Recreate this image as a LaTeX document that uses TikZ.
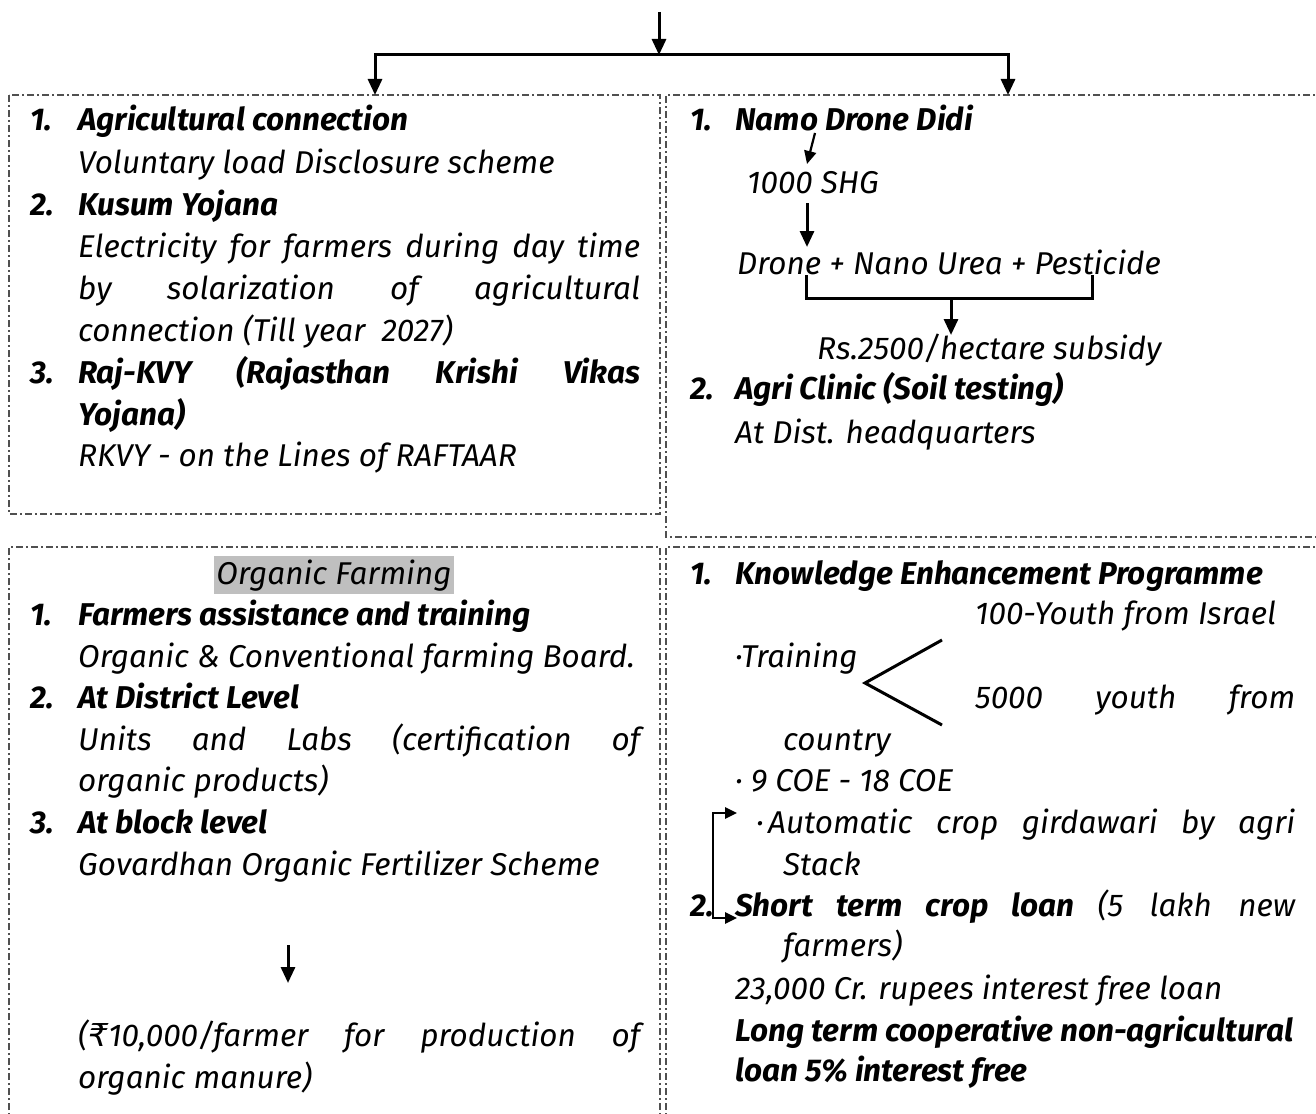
\documentclass[tikz,border=0pt]{standalone}
\usepackage{fontspec}
\setmainfont{Fira Sans}
\newfontfamily\rupeefont{DejaVu Sans}
\usetikzlibrary{arrows.meta}
\definecolor{hlgray}{RGB}{191,191,191}
\definecolor{boxgray}{RGB}{80,80,80}
\begin{document}
\begin{tikzpicture}[x=1pt,y=-1pt,
  box/.style={draw=boxgray, line width=1.3pt, dash pattern=on 7pt off 3pt on 2pt off 3pt},
  tip/.tip={Triangle[length=16pt,width=14pt]},
  arr/.style={-tip, line width=3pt},
  link/.style={line width=3pt},
  txt/.style={anchor=base west, inner sep=0pt, font=\fontsize{31.5}{36}\selectfont\itshape},
  hd/.style={anchor=base west, inner sep=0pt, font=\fontsize{31.5}{36}\selectfont\bfseries\itshape},
]
\useasboundingbox (0,0) rectangle (1316,1113);
\fill[white] (0,0) rectangle (1316,1113);

% ---------- boxes ----------
\draw[box] (9,95) rectangle (660,514);
\draw[box] (1325,95) -- (666,95) -- (666,537) -- (1325,537);
\draw[box] (9,1125) -- (9,547) -- (660,547) -- (660,1125);
\draw[box] (1325,547) -- (666,547) -- (666,1125);

% ---------- top connectors ----------
\coordinate (top) at (659,12);
\coordinate (split) at (659,55);
\coordinate (L) at (375,55);
\coordinate (R) at (1008,55);
\coordinate (Lb) at (375,95);
\coordinate (Rb) at (1008,95);
\draw[arr] (top) -- (split);
\draw[link, line cap=rect] (L) -- (R);
\draw[arr] (L) -- (Lb);
\draw[arr] (R) -- (Rb);

% ---------- top left ----------
\node[hd] (n1) at (30,131) {1.};
\node[hd] (agc) at (78,131) {Agricultural connection};
\node[txt] (vol) at (78,173) {Voluntary load Disclosure scheme};
\node[hd] (n2) at (30,215) {2.};
\node[hd] (kus) at (78,215) {Kusum Yojana};
\node[txt] (el1) at (78,257) {\makebox[562pt][s]{Electricity for farmers during day time}};
\node[txt] (el2) at (78,299) {\makebox[562pt][s]{by solarization of agricultural}};
\node[txt] (el3) at (78,341) {connection (Till year\ \ 2027)};
\node[hd] (n3) at (30,383) {3.};
\node[hd] (raj1) at (78,383) {\makebox[562pt][s]{Raj-KVY (Rajasthan Krishi Vikas}};
\node[hd] (raj2) at (78,425) {Yojana)};
\node[txt] (rkvy) at (78,466) {RKVY - on the Lines of RAFTAAR};

% ---------- top right ----------
\node[hd] (m1) at (690,131) {1.};
\node[hd] (namo) at (735,131) {Namo Drone Didi};
\node[txt] (shg) at (747,193) {1000 SHG};
\node[txt] (drone) at (737,274) {Drone + Nano Urea + Pesticide};
\node[txt] (rs) at (817,359) {Rs.2500/hectare subsidy};
\node[hd] (m2) at (690,399) {2.};
\node[hd] (clinic) at (735,399) {Agri Clinic (Soil testing)};
\node[txt] (dist) at (735,443) {At Dist. headquarters};
\coordinate (a1s) at (815,133);
\coordinate (a1e) at (807,164);
\coordinate (a2s) at (807,203);
\coordinate (a2e) at (807,247);
\coordinate (bl) at (806,275);
\coordinate (br) at (1092,275);
\coordinate (bm) at (951,298);
\coordinate (be) at (951,335);
\draw[-{Triangle[length=13pt,width=12pt]}, line width=2.2pt] (a1s) -- (a1e);
\draw[arr] (a2s) -- (a2e);
\draw[link] (bl) |- (bm) -| (br);
\draw[arr] (bm) -- (be);

% ---------- bottom left ----------
\node[anchor=base, fill=hlgray, inner xsep=2pt, inner ysep=3pt,
      font=\fontsize{31.5}{36}\selectfont\itshape] (org) at (334,584) {Organic Farming};
\node[hd] (o1) at (30,625) {1.};
\node[hd] (far) at (78,625) {Farmers assistance and training};
\node[txt] (board) at (78,667) {Organic \& Conventional farming Board.};
\node[hd] (o2) at (30,708) {2.};
\node[hd] (distl) at (78,708) {At District Level};
\node[txt] (units1) at (78,750) {\makebox[562pt][s]{Units and Labs (certification of}};
\node[txt] (units2) at (78,791) {organic products)};
\node[hd] (o3) at (30,833) {3.};
\node[hd] (block) at (78,833) {At block level};
\node[txt] (gov) at (78,875) {Govardhan Organic Fertilizer Scheme};
\node[txt] (ten1) at (78,1046) {\makebox[562pt][s]{({\rupeefont\itshape ₹}10,000/farmer for production of}};
\node[txt] (ten2) at (78,1088) {organic manure)};
\coordinate (g1) at (288,945);
\coordinate (g2) at (288,983);
\draw[arr] (g1) -- (g2);

% ---------- bottom right ----------
\node[hd] (k1) at (690,584) {1.};
\node[hd] (know) at (735,584) {Knowledge Enhancement Programme};
\node[txt] (isr) at (975,624) {100-Youth from Israel};
\node[txt] (train) at (735,667) {\textperiodcentered Training};
\node[txt] (y5a) at (975,708) {\makebox[320pt][s]{5000 youth from}};
\node[txt] (y5b) at (783,750) {country};
\node[txt] (coe) at (735,791) {\textperiodcentered\ 9 COE - 18 COE};
\node[txt] (bul) at (756,833) {\textperiodcentered};
\node[txt] (auto) at (768,833) {\makebox[527pt][s]{Automatic crop girdawari by agri}};
\node[txt] (stack) at (783,875) {Stack};
\node[hd] (k2) at (690,916) {2.};
\node[txt] (short) at (735,916) {\makebox[560pt][s]{\bfseries Short term crop loan \mdseries (5 lakh new}};
\node[txt] (farm) at (783,956) {farmers)};
\node[txt] (cr) at (735,999) {23,000 Cr. rupees interest free loan};
\node[hd] (long1) at (735,1041) {Long term cooperative non-agricultural};
\node[hd] (long2) at (735,1081) {loan 5\% interest free};
\coordinate (tv) at (865,683);
\coordinate (tu) at (942,640);
\coordinate (td) at (942,725);
\draw[link] (tu) -- (tv) -- (td);
\coordinate (ka) at (737,813);
\coordinate (kb) at (737,918);
\draw[{Triangle[length=12pt,width=11pt]}-{Triangle[length=12pt,width=11pt]}, line width=2.6pt]
  (ka) -- (713,813) -- (713,918) -- (kb);
\end{tikzpicture}
\end{document}
